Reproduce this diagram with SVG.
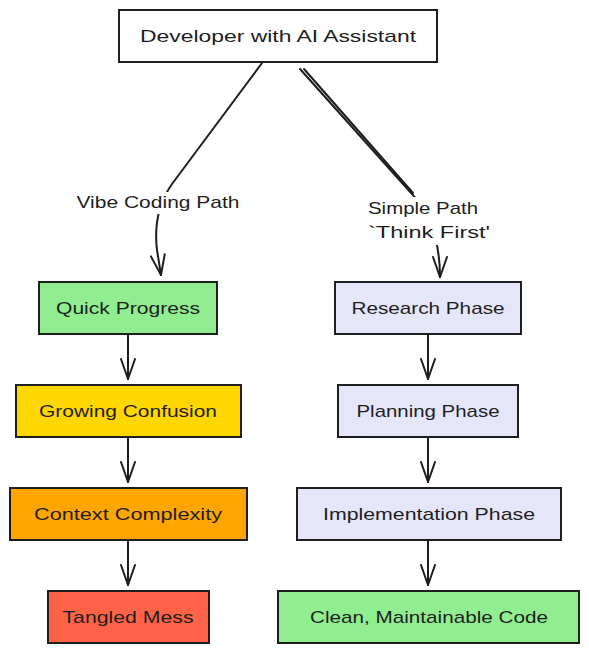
<svg xmlns="http://www.w3.org/2000/svg" width="589" height="652" viewBox="0 0 589 652">
<style>
.box{stroke:#1e1e1e;stroke-width:2;}
.lbl{font-family:"Liberation Sans",Arial,sans-serif;font-size:17px;fill:#1e1e1e;text-anchor:middle;}
.edge{fill:none;stroke:#1e1e1e;stroke-width:2;stroke-linecap:round;}
</style>
<defs>
<marker id="ah" markerUnits="userSpaceOnUse" markerWidth="24" markerHeight="20" refX="0" refY="0" viewBox="-22 -10 24 20" orient="auto" overflow="visible">
<path d="M -20 -7 L 0 0 L -20 7" fill="none" stroke="#1e1e1e" stroke-width="2" stroke-linecap="round" stroke-linejoin="round"/>
</marker>
</defs>
<rect width="589" height="652" fill="#ffffff"/>

<g id="connectors">
<path class="edge" d="M 262 63 L 172 184 C 158 204, 154 225, 157 250 L 161 275" marker-end="url(#ah)"/>
<path class="edge" d="M 300 69 L 412 194 C 430 214, 440 240, 440 277" marker-end="url(#ah)"/>
<path class="edge" d="M 304 69 L 413 193" stroke-width="1.5"/>
<rect x="72" y="192" width="172" height="22" fill="#ffffff"/>
<text class="lbl" x="158" y="208" textLength="163" lengthAdjust="spacingAndGlyphs">Vibe Coding Path</text>
<rect x="362" y="197" width="136" height="48" fill="#ffffff"/>
<text class="lbl" x="423" y="214" textLength="110" lengthAdjust="spacingAndGlyphs">Simple Path</text>
<text class="lbl" x="429" y="238" textLength="122" lengthAdjust="spacingAndGlyphs">`Think First'</text>
<path class="edge" d="M 128 335 L 128 379" marker-end="url(#ah)"/>
<path class="edge" d="M 128 438 L 128 482" marker-end="url(#ah)"/>
<path class="edge" d="M 128 541 L 128 585" marker-end="url(#ah)"/>
<path class="edge" d="M 428 335 L 428 379" marker-end="url(#ah)"/>
<path class="edge" d="M 428 438 L 428 482" marker-end="url(#ah)"/>
<path class="edge" d="M 428 541 L 428 585" marker-end="url(#ah)"/>
</g>

<g id="developer">
<rect class="box" x="119" y="10" width="318" height="52" fill="#ffffff"/>
<text class="lbl" x="278" y="42" textLength="276" lengthAdjust="spacingAndGlyphs">Developer with AI Assistant</text>
</g>

<g id="quick-progress">
<rect class="box" x="39" y="282" width="178" height="52" fill="#90ee90"/>
<text class="lbl" x="128" y="314" textLength="144" lengthAdjust="spacingAndGlyphs">Quick Progress</text>
</g>
<g id="growing-confusion">
<rect class="box" x="16" y="385" width="225" height="52" fill="#ffd700"/>
<text class="lbl" x="128" y="417" textLength="178" lengthAdjust="spacingAndGlyphs">Growing Confusion</text>
</g>
<g id="context-complexity">
<rect class="box" x="10" y="488" width="237" height="52" fill="#ffa500"/>
<text class="lbl" x="128" y="520" textLength="188" lengthAdjust="spacingAndGlyphs">Context Complexity</text>
</g>
<g id="tangled-mess">
<rect class="box" x="48" y="591" width="161" height="52" fill="#ff6347"/>
<text class="lbl" x="128" y="623" textLength="131" lengthAdjust="spacingAndGlyphs">Tangled Mess</text>
</g>

<g id="research-phase">
<rect class="box" x="335" y="282" width="186" height="52" fill="#e6e6fa"/>
<text class="lbl" x="428" y="314" textLength="153" lengthAdjust="spacingAndGlyphs">Research Phase</text>
</g>
<g id="planning-phase">
<rect class="box" x="338" y="385" width="180" height="52" fill="#e6e6fa"/>
<text class="lbl" x="428" y="417" textLength="143" lengthAdjust="spacingAndGlyphs">Planning Phase</text>
</g>
<g id="implementation-phase">
<rect class="box" x="297" y="488" width="264" height="52" fill="#e6e6fa"/>
<text class="lbl" x="429" y="520" textLength="212" lengthAdjust="spacingAndGlyphs">Implementation Phase</text>
</g>
<g id="clean-code">
<rect class="box" x="278" y="591" width="301" height="52" fill="#90ee90"/>
<text class="lbl" x="429" y="623" textLength="238" lengthAdjust="spacingAndGlyphs">Clean, Maintainable Code</text>
</g>
</svg>
